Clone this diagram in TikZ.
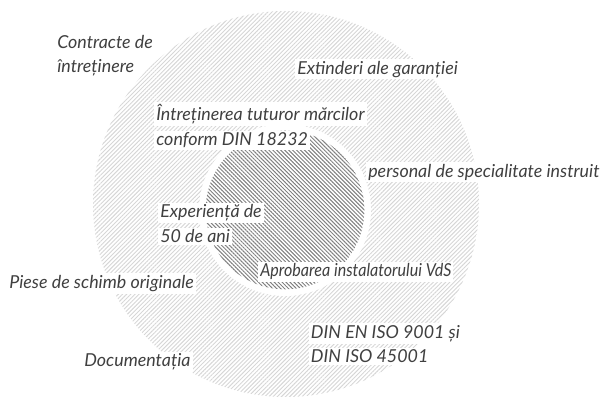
\documentclass[tikz,border=0pt]{standalone}
\usepackage{fontspec}
\newfontfamily\labfont{Lato Italic}
\newfontfamily\labfontnarrow{Lato Italic}[FakeStretch=0.9]
\usetikzlibrary{patterns.meta}
\definecolor{outergray}{HTML}{D6D6D6}
\definecolor{innergray}{HTML}{808080}
\definecolor{txtgray}{HTML}{404040}
\tikzset{
  lab/.style={font=\labfont\fontsize{13.4}{15}\selectfont, text=txtgray, fill=white,
    inner xsep=1.5pt, inner ysep=1.5pt, anchor=base west},
  labnarrow/.style={lab, font=\labfontnarrow\fontsize{13.4}{15}\selectfont},
  outerzone/.style={pattern={Lines[angle=45,distance=2.2pt,line width=0.7pt]}, pattern color=outergray},
  innerzone/.style={pattern={Lines[angle=-45,distance=2.1pt,line width=0.75pt]}, pattern color=innergray}
}
\begin{document}
\begin{tikzpicture}[x=0.75pt,y=-0.75pt]
\useasboundingbox (0,0) rectangle (606,396);
\path[outerzone] (286,204) circle[radius=144.75pt];
\fill[white] (285,210) circle[radius=64.5pt];
\path[innerzone] (285,210) circle[radius=59.5pt];

\node[lab] (c1) at (55,48.5) {Contracte de};
\node[lab] (c2) at (55,72) {întreținere};
\node[lab] (ext) at (295,74) {Extinderi ale garanției};
\node[lab] (i1) at (154,120.7) {Întreținerea tuturor mărcilor};
\node[lab] (i2) at (154,145.7) {conform DIN 18232};
\node[lab] (pers) at (366,177) {personal de specialitate instruit};
\node[lab] (e1) at (158,217.7) {Experiență de};
\node[lab] (e2) at (158,242.7) {50 de ani};
\node[labnarrow] (apr) at (258,276.7) {Aprobarea instalatorului VdS};
\node[lab] (piese) at (7,288.3) {Piese de schimb originale};
\node[lab] (d1) at (308.7,338.3) {DIN EN ISO 9001 și};
\node[lab] (d2) at (308.7,362.7) {DIN ISO 45001};
\node[lab] (doc) at (82,366.7) {Documentația};
\end{tikzpicture}
\end{document}
